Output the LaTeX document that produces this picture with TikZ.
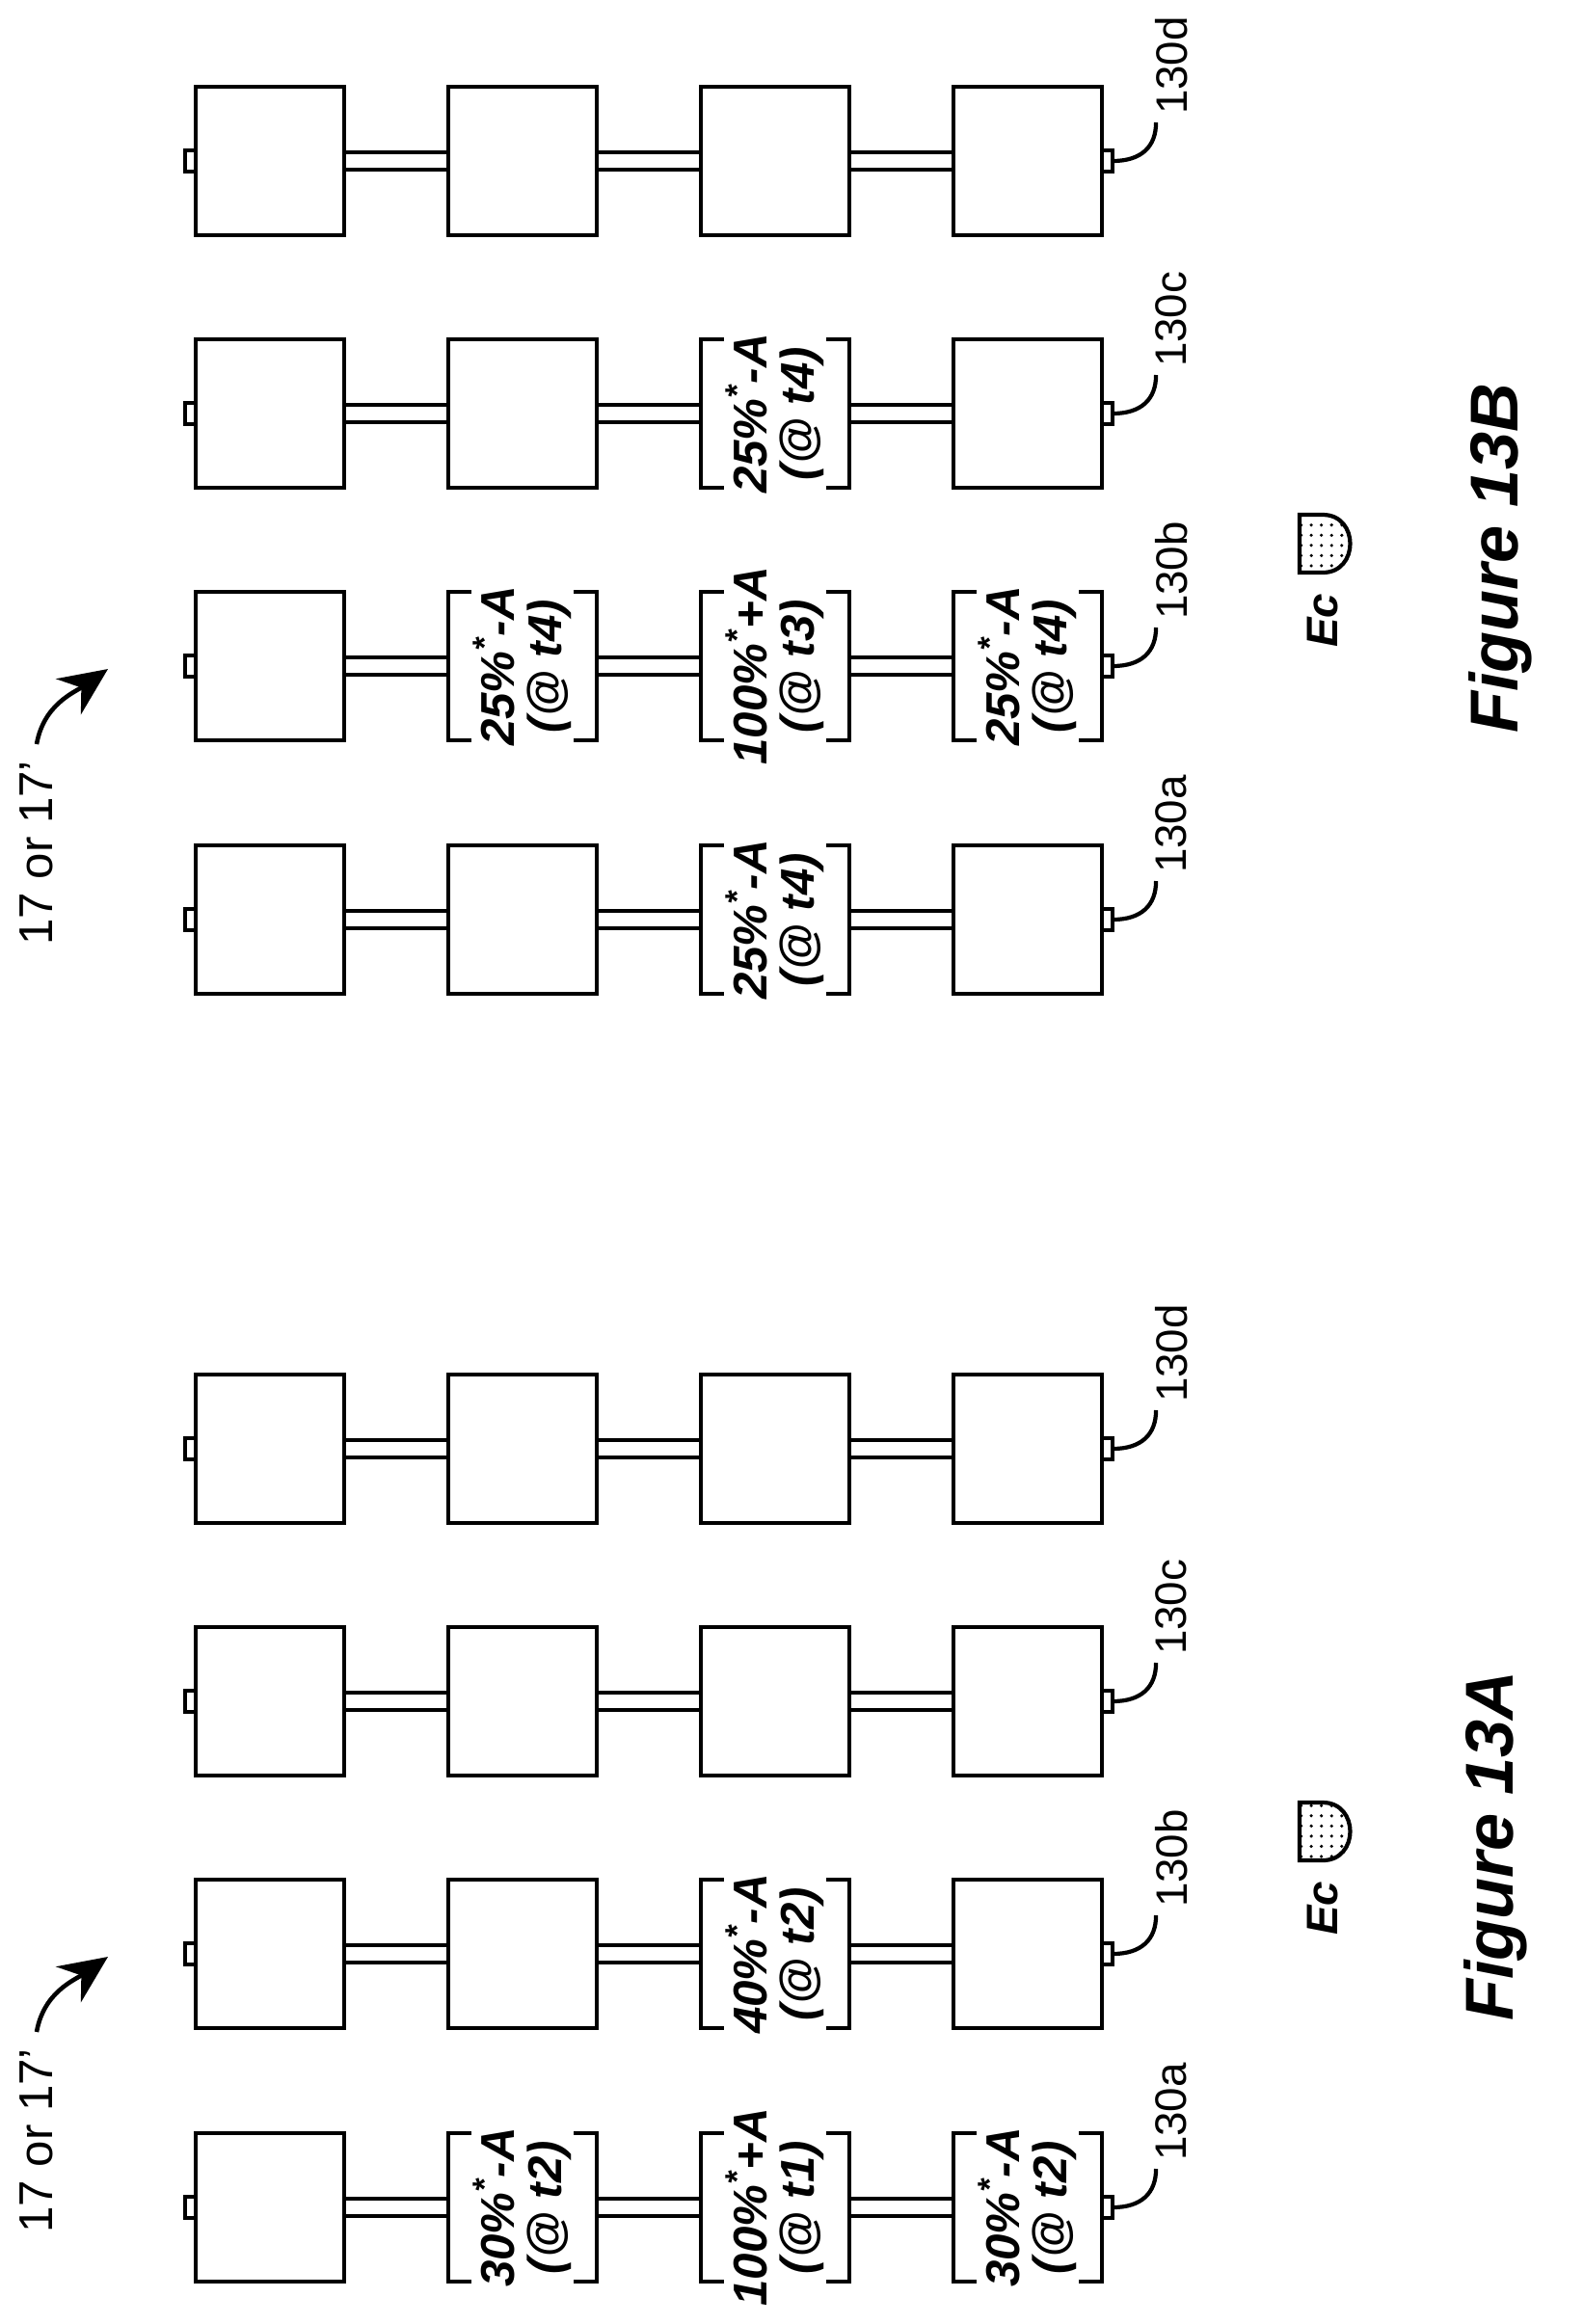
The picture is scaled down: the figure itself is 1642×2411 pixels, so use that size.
\documentclass[tikz,border=0pt]{standalone}
\usepackage{fontspec}
\setmainfont{Liberation Sans}
\usetikzlibrary{arrows.meta,patterns}
\tikzstyle{cell} = [rectangle, minimum width=15mm, minimum height=15mm, inner sep=0pt]
\tikzstyle{dose} = [rotate=90, inner sep=0pt, align=center, font=\fontsize{14}{14}\selectfont\bfseries\itshape]
\tikzstyle{tag} = [rotate=90, inner sep=0pt, font=\fontsize{13}{13}\selectfont]
\tikzstyle{title} = [rotate=90, inner sep=0pt, font=\fontsize{20}{20}\selectfont\bfseries\itshape]
\tikzstyle{pointer} = [line width=1.3pt, -{Stealth[length=5mm,width=4.5mm]}]
\newcommand{\dose}[3]{%
  \draw ([xshift=2.4mm]#1.north west) -- (#1.north west) -- (#1.south west) -- ([xshift=2.4mm]#1.south west);
  \draw ([xshift=-2.4mm]#1.north east) -- (#1.north east) -- (#1.south east) -- ([xshift=-2.4mm]#1.south east);
  \node[dose] (#1t) at (#1) {#2\\#3};}
\newcommand{\chain}[2]{%
  \foreach \r/\x in {1/280,2/542,3/804,4/1066}
    \node[cell] (#1\r) at (\x,#2) {};
  \foreach \r/\s in {1/2,2/3,3/4}
    \draw ([yshift=0.9mm]#1\r.east) -- ([yshift=0.9mm]#1\s.west)
          ([yshift=-0.9mm]#1\r.east) -- ([yshift=-0.9mm]#1\s.west);
  \draw (#11.west) +(0,1.1mm) -- +(-1.1mm,1.1mm) -- +(-1.1mm,-1.1mm) -- +(0,-1.1mm);
  \draw (#14.east) +(0,1.1mm) -- +(1.1mm,1.1mm) -- +(1.1mm,-1.1mm) -- +(0,-1.1mm);
  \coordinate (#1t) at ([xshift=1.1mm]#14.east);
  \draw (#1t) .. controls +(3mm,0) and +(0,-2.5mm) .. ++(4.5mm,4mm) coordinate (#1e);}
\begin{document}
\begin{tikzpicture}[x=0.1mm, y=-0.1mm, line width=1.2pt]
\useasboundingbox (0,0) rectangle (1642,2411);

% Figure 13A
\chain{Aa}{2290}
\chain{Ab}{2027}
\chain{Ac}{1765}
\chain{Ad}{1503}
\foreach \n in {Aa1,Ab1,Ab2,Ab4,Ac1,Ac2,Ac3,Ac4,Ad1,Ad2,Ad3,Ad4}
  \draw (\n.north west) rectangle (\n.south east);
\dose{Aa2}{30\%\textsuperscript{*}-A}{(@ t2)}
\dose{Aa3}{100\%\textsuperscript{*}+A}{(@ t1)}
\dose{Aa4}{30\%\textsuperscript{*}-A}{(@ t2)}
\dose{Ab3}{40\%\textsuperscript{*}-A}{(@ t2)}
\foreach \c in {a,b,c,d}
  \node[tag, anchor=west] (Al\c) at ([shift={(1.6mm,0.6mm)}]A\c e) {130\c};
\node[tag, font=\fontsize{14}{14}\selectfont, anchor=east] (Aref) at (38,2123) {17 or 17'};
\coordinate (Aarr) at (112,2030);
\draw[pointer] ([yshift=1.5mm]Aref.east) to[out=80,in=215] (Aarr);
\node[font=\fontsize{13}{13}\selectfont\bfseries\itshape, rotate=90, inner sep=0pt] (Aec) at (1372,1980) {Ec};
\draw[pattern=dots] (1348,1870) -- (1372,1870) .. controls (1410,1870) and (1410,1930) .. (1372,1930) -- (1348,1930) -- cycle;
\node[title] (Afig) at (1551,1915) {Figure 13A};

% Figure 13B
\begin{scope}[yshift=133.6mm]
\chain{Ba}{2290}
\chain{Bb}{2027}
\chain{Bc}{1765}
\chain{Bd}{1503}
\foreach \n in {Ba1,Ba2,Ba4,Bb1,Bc1,Bc2,Bc4,Bd1,Bd2,Bd3,Bd4}
  \draw (\n.north west) rectangle (\n.south east);
\dose{Ba3}{25\%\textsuperscript{*}-A}{(@ t4)}
\dose{Bb2}{25\%\textsuperscript{*}-A}{(@ t4)}
\dose{Bb3}{100\%\textsuperscript{*}+A}{(@ t3)}
\dose{Bb4}{25\%\textsuperscript{*}-A}{(@ t4)}
\dose{Bc3}{25\%\textsuperscript{*}-A}{(@ t4)}
\foreach \c in {a,b,c,d}
  \node[tag, anchor=west] (Bl\c) at ([shift={(1.6mm,0.6mm)}]B\c e) {130\c};
\node[tag, font=\fontsize{14}{14}\selectfont, anchor=east] (Bref) at (38,2123) {17 or 17'};
\coordinate (Barr) at (112,2030);
\draw[pointer] ([yshift=1.5mm]Bref.east) to[out=80,in=215] (Barr);
\node[font=\fontsize{13}{13}\selectfont\bfseries\itshape, rotate=90, inner sep=0pt] (Bec) at (1372,1980) {Ec};
\draw[pattern=dots] (1348,1870) -- (1372,1870) .. controls (1410,1870) and (1410,1930) .. (1372,1930) -- (1348,1930) -- cycle;
\node[title] (Bfig) at (1556,1915) {Figure 13B};
\end{scope}
\end{tikzpicture}
\end{document}
